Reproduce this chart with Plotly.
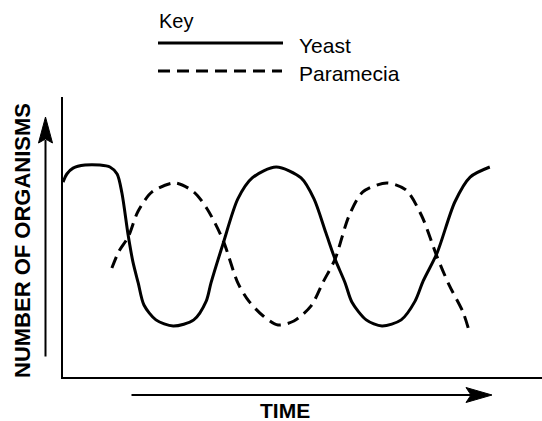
import plotly.graph_objects as go

# ---- data (time units 0-100, number of organisms 0-100) ----
yeast_time = [0, 0.8, 2.1, 4.6, 7.7, 9.8, 11.3, 12.3, 13.6, 14.6, 15.7, 16.9, 19.4, 23.0,
              27.3, 29.9, 30.9, 33.4, 36.5, 39.5, 44.5, 49.7, 52.4, 54.9, 56.8, 58.9,
              60.3, 63.3, 66.6, 70.6, 73.5, 75.2, 78.1, 81.8, 85.0, 89.1]
yeast_count = [69.6, 72.5, 74.6, 75.7, 75.7, 75.0, 72.5, 65.7, 50.7, 41.1, 33.6, 25.7, 20.4, 18.2,
               20.4, 27.1, 33.6, 47.5, 63.6, 71.1, 75.0, 71.1, 63.6, 51.4, 42.1, 33.6,
               26.8, 20.4, 18.2, 20.4, 27.1, 34.3, 44.3, 62.5, 71.4, 75.0]

paramecia_time = [10.2, 11.7, 13.6, 15.7, 18.6, 23.4, 27.3, 30.1, 33.4, 36.5, 38.8, 41.8, 44.9,
                  48.2, 51.8, 54.3, 56.8, 59.7, 62.6, 67.6, 71.6, 74.9, 78.1, 80.6, 83.5, 84.6]
paramecia_count = [38.9, 45.0, 50.0, 59.3, 66.1, 69.3, 66.1, 60.0, 48.9, 33.6, 27.1, 21.8, 18.6,
                   20.0, 25.4, 33.9, 42.1, 57.5, 66.1, 69.3, 66.8, 57.5, 42.9, 32.9, 23.2, 17.5]

series_names = ["Yeast", "Paramecia"]
key_title = "Key"
x_title = "TIME"
y_title = "NUMBER OF ORGANISMS"

INK = "#000000"
FONT = "Liberation Sans, Arial, Helvetica, sans-serif"
DASH = "12px,7px"

fig = go.Figure()
fig.add_trace(go.Scatter(x=yeast_time, y=yeast_count, mode="lines", name=series_names[0],
                         line=dict(color=INK, width=3, shape="spline", smoothing=0.8),
                         showlegend=False, hoverinfo="skip"))
fig.add_trace(go.Scatter(x=paramecia_time, y=paramecia_count, mode="lines", name=series_names[1],
                         line=dict(color=INK, width=3, dash=DASH, shape="spline", smoothing=0.8),
                         showlegend=False, hoverinfo="skip"))

# plot area in pixels: left 63, right 542, top 97, bottom 377
L, R, T, B = 63, 542, 97, 377
def px(x):
    return (x - L) / (R - L)
def py(y):
    return (B - y) / (B - T)

def path(points):
    return "M " + " L ".join("%.5f,%.5f" % (px(a), py(b)) for a, b in points) + " Z"

annotations = [
    dict(text=key_title, x=px(157), y=py(21), xref="paper", yref="paper",
         xanchor="left", yanchor="middle", showarrow=False,
         font=dict(family=FONT, size=20, color=INK)),
    dict(text=series_names[0], x=px(297), y=py(45), xref="paper", yref="paper",
         xanchor="left", yanchor="middle", showarrow=False,
         font=dict(family=FONT, size=21, color=INK)),
    dict(text=series_names[1], x=px(297), y=py(73), xref="paper", yref="paper",
         xanchor="left", yanchor="middle", showarrow=False,
         font=dict(family=FONT, size=21, color=INK)),
    dict(text="<b>%s</b>" % y_title, x=px(22), y=py(241), xref="paper", yref="paper",
         xanchor="center", yanchor="middle", showarrow=False, textangle=-90,
         font=dict(family=FONT, size=22, color=INK)),
    dict(text="<b>%s</b>" % x_title, x=px(285), y=py(410), xref="paper", yref="paper",
         xanchor="center", yanchor="middle", showarrow=False,
         font=dict(family=FONT, size=21, color=INK)),
    # axis arrow shafts
    dict(x=px(45.5), y=py(140), xref="paper", yref="paper", ax=0, ay=218,
         axref="pixel", ayref="pixel", text="", showarrow=True,
         arrowhead=0, arrowwidth=2, arrowcolor=INK),
    dict(x=px(472), y=py(395), xref="paper", yref="paper", ax=-342, ay=0,
         axref="pixel", ayref="pixel", text="", showarrow=True,
         arrowhead=0, arrowwidth=2, arrowcolor=INK),
]

shapes = [
    dict(type="line", xref="paper", yref="paper", x0=px(158), x1=px(283), y0=py(43), y1=py(43),
         line=dict(color=INK, width=3)),
    dict(type="line", xref="paper", yref="paper", x0=px(158), x1=px(282), y0=py(71), y1=py(71),
         line=dict(color=INK, width=3, dash=DASH)),
    # arrowheads
    dict(type="path", xref="paper", yref="paper",
         path=path([(45.5, 117), (52.5, 143), (45.5, 139), (38.5, 143)]),
         fillcolor=INK, line=dict(color=INK, width=1)),
    dict(type="path", xref="paper", yref="paper",
         path=path([(492, 395), (466, 387.5), (471, 395), (466, 402.5)]),
         fillcolor=INK, line=dict(color=INK, width=1)),
]

fig.update_layout(
    width=542, height=421,
    margin=dict(l=L, r=542 - R, t=T, b=421 - B, pad=0),
    paper_bgcolor="white", plot_bgcolor="white",
    annotations=annotations, shapes=shapes,
    xaxis=dict(range=[0, 100], showgrid=False, zeroline=False, showticklabels=False,
               ticks="", showline=True, linecolor=INK, linewidth=2, fixedrange=True),
    yaxis=dict(range=[0, 100], showgrid=False, zeroline=False, showticklabels=False,
               ticks="", showline=True, linecolor=INK, linewidth=2, fixedrange=True),
    showlegend=False,
)

fig.write_html("out.html", config={"displayModeBar": False},
               post_script="document.body.style.margin='0px';document.body.style.overflow='hidden';")
